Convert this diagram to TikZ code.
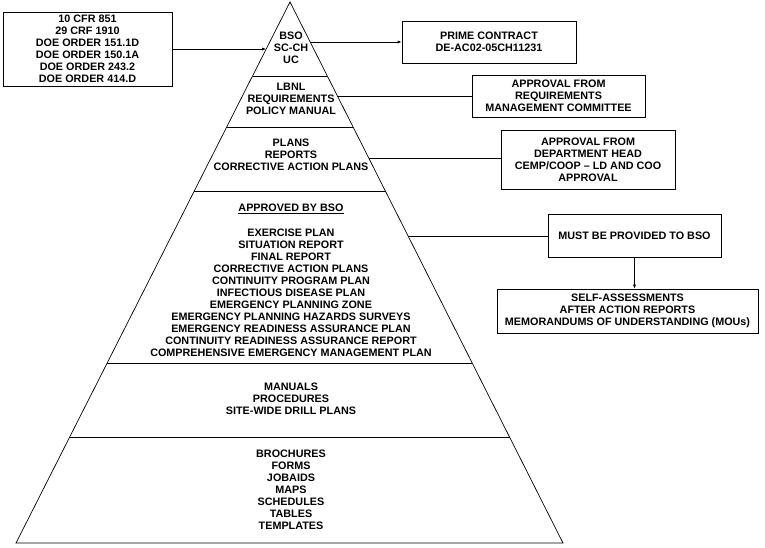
\documentclass[tikz,border=0pt]{standalone}
\usepackage{fontspec}
\setmainfont{Liberation Sans}
\usetikzlibrary{calc,arrows.meta}
\newcommand{\tierfont}{\fontsize{10.8}{12}\selectfont\bfseries}
\tikzset{
  docbox/.style={draw, line width=0.7pt, align=center, font=\tierfont, inner sep=0pt},
  tier/.style={align=center, font=\tierfont, inner sep=0pt},
  link/.style={line width=0.7pt},
  feed/.style={line width=0.7pt, -{Latex[length=4pt,width=3pt]}}
}
\begin{document}
\begin{tikzpicture}[x=1pt, y=-1pt]
  \useasboundingbox (0,0) rectangle (765,547);
  \fill[white] (0,0) rectangle (765,547);
  \coordinate (apex) at (290,2);
  \coordinate (baseL) at (16,543);
  \coordinate (baseR) at (563,543);
  \draw[link] (apex) -- (baseL) -- (baseR) -- cycle;
  \foreach \t in {0.1368,0.2311,0.3494,0.6673,0.8041}
    \draw[link] ($(apex)!\t!(baseL)$) -- ($(apex)!\t!(baseR)$);
  % edge points for the connectors
  \coordinate (edgeIn) at ($(apex)!0.0869!(baseL)$);
  \coordinate (edgeA) at ($(apex)!0.0739!(baseR)$);
  \coordinate (edgeB) at ($(apex)!0.1738!(baseR)$);
  \coordinate (edgeC) at ($(apex)!0.2884!(baseR)$);
  \coordinate (edgeD) at ($(apex)!0.4325!(baseR)$);
  % pyramid tiers
  \node[tier] (bso) at (291,48) {BSO\\SC-CH\\UC};
  \node[tier] (lbnl) at (291,99) {LBNL\\REQUIREMENTS\\POLICY MANUAL};
  \node[tier] (plans) at (291,155) {PLANS\\REPORTS\\CORRECTIVE ACTION PLANS};
  \node[tier] (approved) at (291,209) {\underline{APPROVED BY BSO}};
  \node[tier] (bsoplans) at (291,293) {EXERCISE PLAN\\SITUATION REPORT\\FINAL REPORT\\
    CORRECTIVE ACTION PLANS\\CONTINUITY PROGRAM PLAN\\INFECTIOUS DISEASE PLAN\\
    EMERGENCY PLANNING ZONE\\EMERGENCY PLANNING HAZARDS SURVEYS\\
    EMERGENCY READINESS ASSURANCE PLAN\\CONTINUITY READINESS ASSURANCE REPORT\\
    COMPREHENSIVE EMERGENCY MANAGEMENT PLAN};
  \node[tier] (manuals) at (291,399) {MANUALS\\PROCEDURES\\SITE-WIDE DRILL PLANS};
  \node[tier] (aids) at (291,490) {BROCHURES\\FORMS\\JOBAIDS\\MAPS\\SCHEDULES\\TABLES\\TEMPLATES};
  % side boxes
  \node[docbox, minimum width=169, minimum height=74] (orders) at (87.5,49)
    {10 CFR 851\\29 CRF 1910\\DOE ORDER 151.1D\\DOE ORDER 150.1A\\DOE ORDER 243.2\\DOE ORDER 414.D};
  \node[docbox, minimum width=174, minimum height=42] (prime) at (489,42)
    {PRIME CONTRACT\\DE-AC02-05CH11231};
  \node[docbox, minimum width=173, minimum height=42] (rmc) at (558.5,96)
    {APPROVAL FROM\\REQUIREMENTS\\MANAGEMENT COMMITTEE};
  \node[docbox, minimum width=174, minimum height=59] (dept) at (588,159.5)
    {APPROVAL FROM\\DEPARTMENT HEAD\\CEMP/COOP -- LD AND COO\\APPROVAL};
  \node[docbox, minimum width=173, minimum height=43] (must) at (634.5,235.5)
    {MUST BE PROVIDED TO BSO};
  \node[docbox, minimum width=261, minimum height=44] (self) at (627.5,311)
    {SELF-ASSESSMENTS\\AFTER ACTION REPORTS\\MEMORANDUMS OF UNDERSTANDING (MOUs)};
  % connectors
  \draw[feed] (orders.east) -- (orders.east -| edgeIn);
  \draw[feed] (edgeA) -- (edgeA -| prime.west);
  \draw[link] (edgeB) -- (edgeB -| rmc.west);
  \draw[link] (edgeC) -- (edgeC -| dept.west);
  \draw[link] (edgeD) -- (edgeD -| must.west);
  \draw[feed] (must.south) -- (must.south |- self.north);
\end{tikzpicture}
\end{document}
